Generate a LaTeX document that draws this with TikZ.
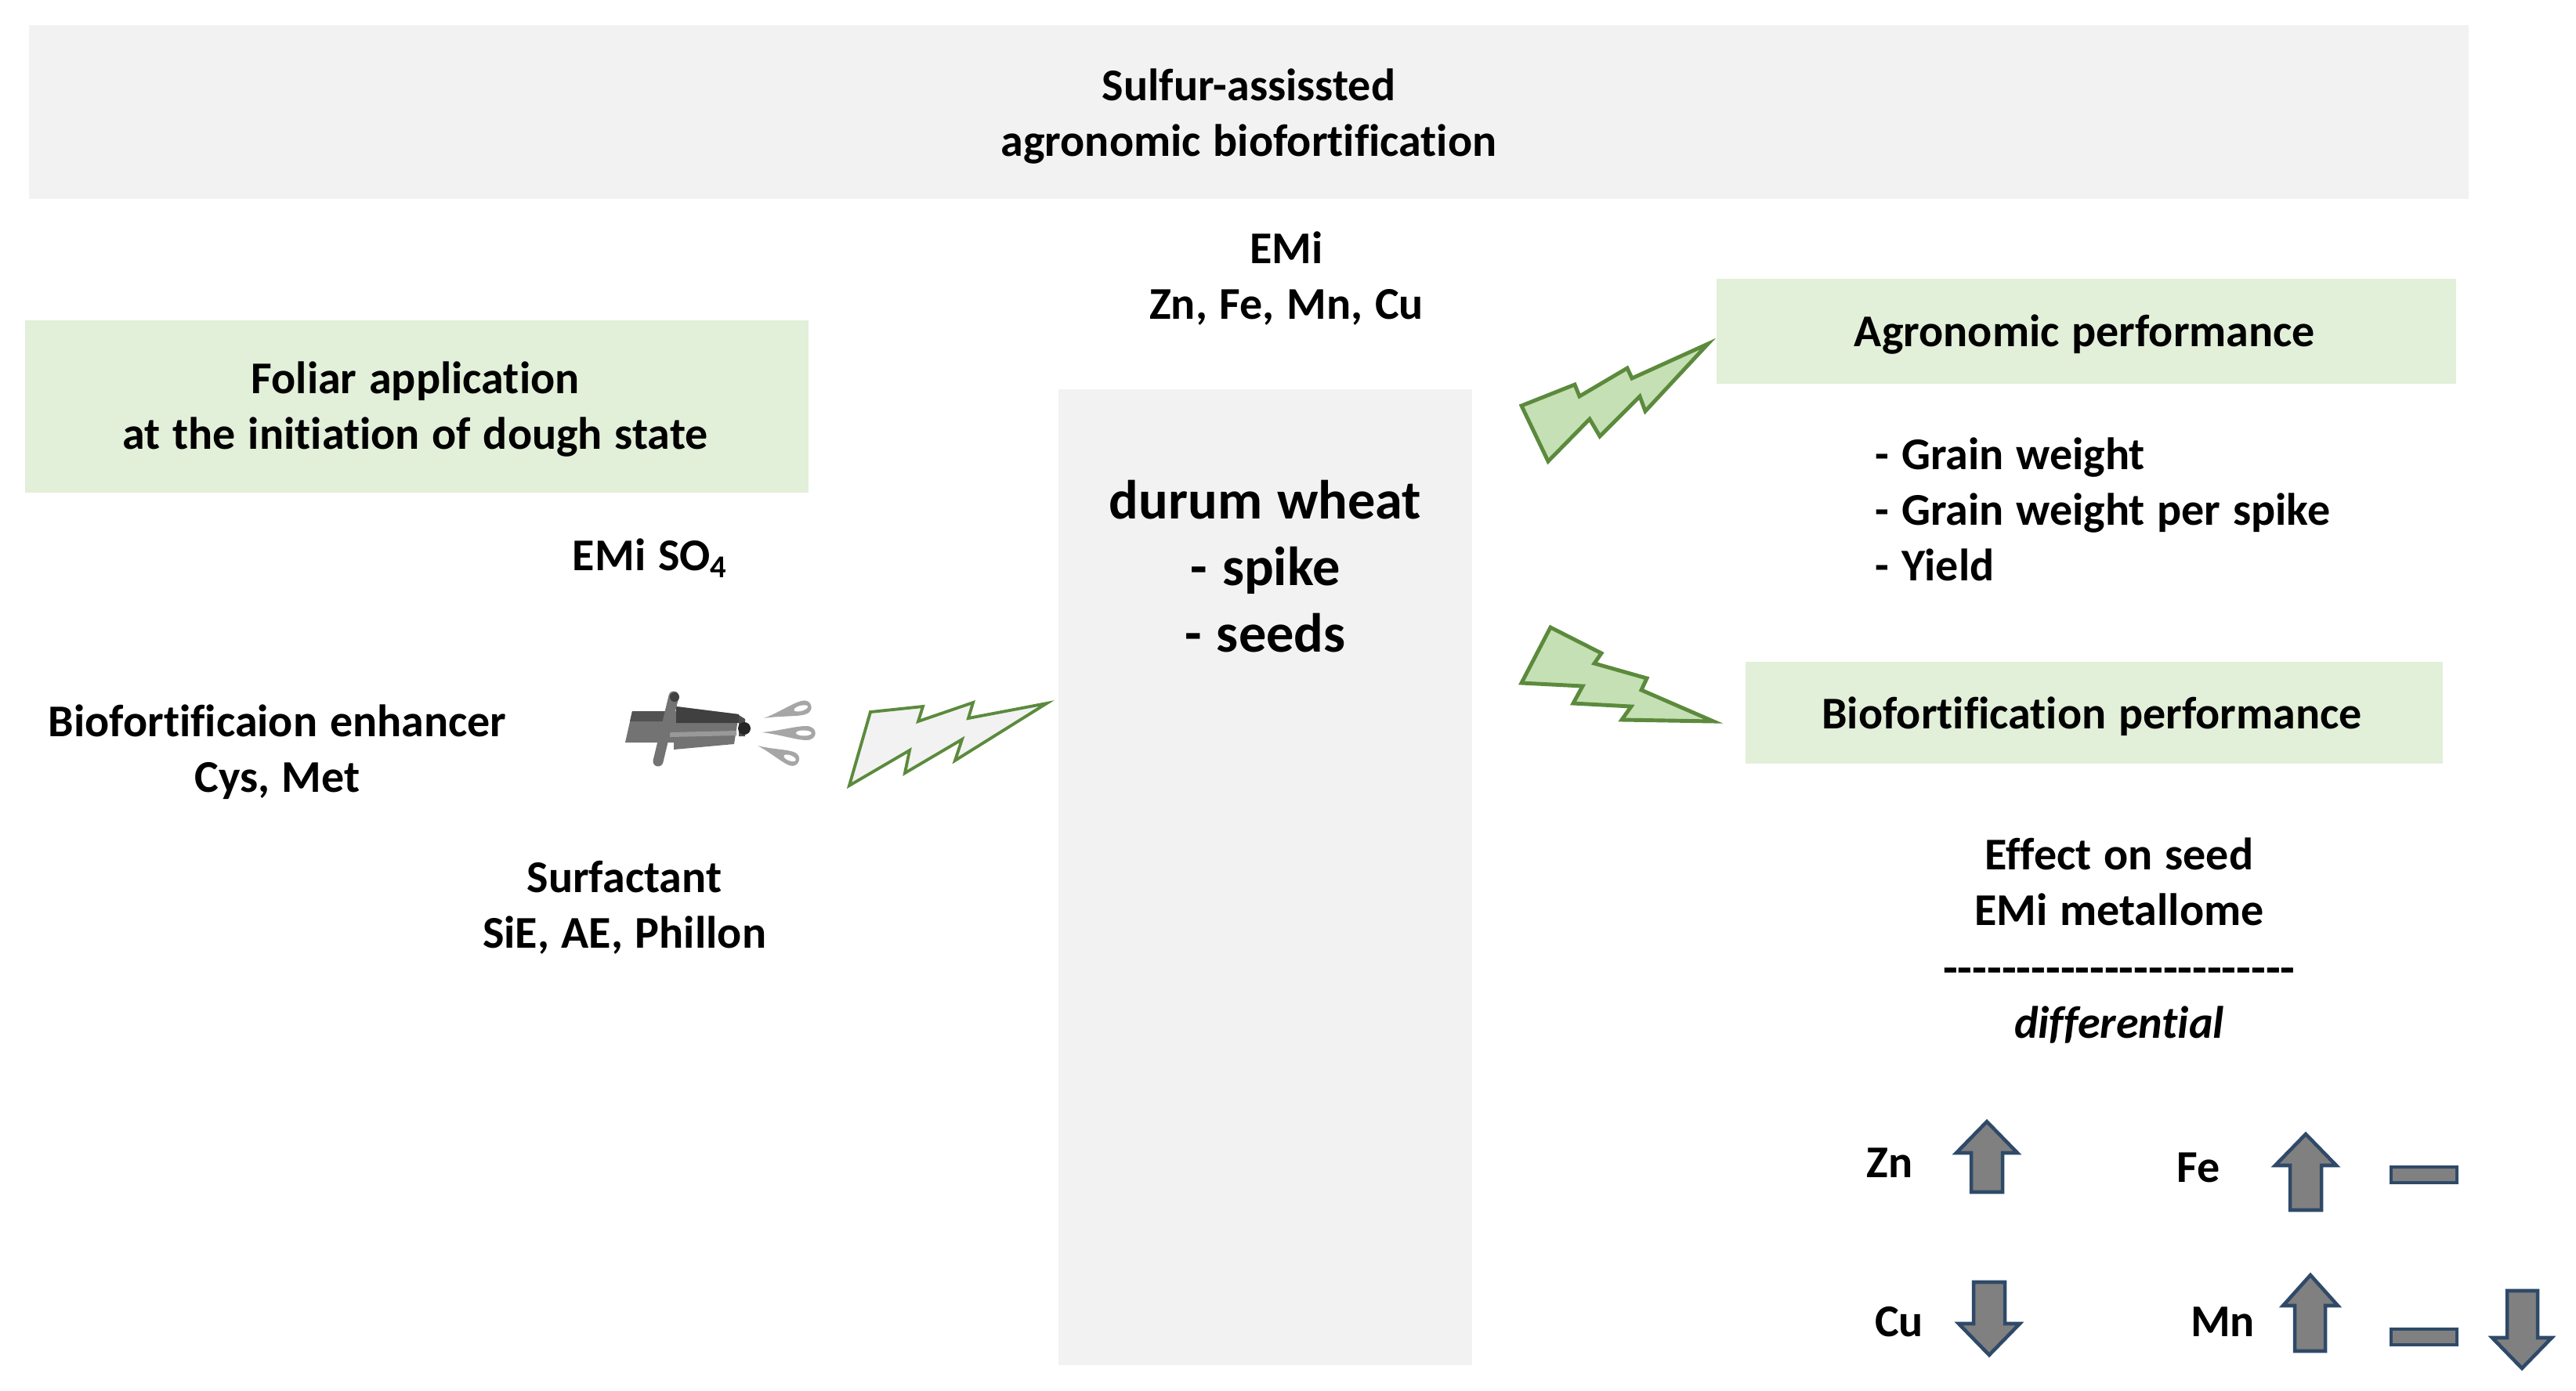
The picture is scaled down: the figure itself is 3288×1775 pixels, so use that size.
\documentclass[tikz,border=0pt]{standalone}
\usepackage{fontspec}
\setmainfont{Carlito}[Ligatures=NoCommon, WordSpace=1.2]
\tikzset{
	txt/.style={font=\fontsize{16.5}{20.2}\selectfont\bfseries, align=center, inner sep=0pt},
	bigtxt/.style={font=\fontsize{20}{24.1}\selectfont\bfseries, align=center, inner sep=0pt},
	greybox/.style={fill=black!5, inner sep=0pt},
	greenbox/.style={fill=boxgreen, inner sep=0pt},
	bolt/.style={draw=boltline, fill=boltfill, line width=1.4pt, line join=miter},
	greybolt/.style={draw=boltline, fill=black!5, line width=1.1pt, line join=miter},
	updown/.style={draw=arrowline, fill=black!50, line width=1.3pt},
	drop/.style={fill=black!35}
}
\definecolor{boxgreen}{HTML}{E2EFD9}
\definecolor{boltfill}{HTML}{C5E0B4}
\definecolor{boltline}{HTML}{5B8A3C}
\definecolor{arrowline}{HTML}{2F4A68}
\begin{document}
\begin{tikzpicture}[x=0.01cm,y=-0.01cm]
	\useasboundingbox (0,0) rectangle (3288,1775);

	% Boxes
	\node[greybox, minimum width=31.12cm, minimum height=2.22cm] (titlebox) at (1594,143) {};
	\node[greenbox, minimum width=10cm, minimum height=2.2cm] (foliarbox) at (532,519) {};
	\node[greybox, minimum width=5.27cm, minimum height=12.46cm] (wheatbox) at (1615,1120) {};
	\node[greenbox, minimum width=9.44cm, minimum height=1.33cm] (agrobox) at (2663,423) {};
	\node[greenbox, minimum width=8.9cm, minimum height=1.3cm] (biofortbox) at (2673,910) {};

	% Texts
	\node[txt] (title) at (1594,149) {Sulfur-assissted\\agronomic biofortification};
	\node[txt] (foliar) at (530,523) {Foliar application\\at the initiation of dough state};
	\node[bigtxt] (wheat) at (1615,723) {durum wheat\\- spike\\- seeds};
	\node[txt] (agro) at (2661,427) {Agronomic performance};
	\node[txt] (biofort) at (2670,915) {Biofortification performance};
	\node[txt] (emi) at (1642,356) {EMi\\Zn, Fe, Mn, Cu};
	\node[txt] (emiso) at (830,713) {EMi SO$_{\mathbf{4}}$};
	\node[txt] (enhancer) at (354,960) {Biofortificaion enhancer\\Cys, Met};
	\node[txt] (surfactant) at (797,1159) {Surfactant\\SiE, AE, Phillon};
	\node[txt, align=left, anchor=west] (traits) at (2393,650) {- Grain weight\\- Grain weight per spike\\- Yield};
	\node[txt] (effect) at (2705,1126) {Effect on seed\\EMi metallome};
	\node[txt, font=\fontsize{17.4}{20}\selectfont\bfseries, anchor=base] (dashes) at (2705,1256) {-{}-{}-{}-{}-{}-{}-{}-{}-{}-{}-{}-{}-{}-{}-{}-{}-{}-{}-{}-{}-{}-{}-{}-};
	\node[txt, font=\fontsize{16.5}{20}\selectfont\bfseries\itshape] (diff) at (2705,1308) {differential};
	\node[txt] (zn) at (2412,1485) {Zn};
	\node[txt] (fe) at (2806,1491) {Fe};
	\node[txt] (cu) at (2424,1688) {Cu};
	\node[txt] (mn) at (2837,1688) {Mn};

	% Lightning bolts
	\draw[greybolt] (1084,1003)--(1111,909)--(1178,902)--(1172,921)--(1242,897)--(1236,917)--(1336,898)--(1219,971)--(1228,944)--(1155,987)--(1161,958)--cycle;
	\draw[bolt] (1942,518)--(2010,491)--(2016,506)--(2077,470)--(2083,483)--(2180,439)--(2100,525)--(2093,506)--(2042,557)--(2029,535)--(1976,589)--cycle;
	\draw[bolt] (1979,801)--(2044,834)--(2035,847)--(2102,866)--(2095,881)--(2187,921)--(2070,919)--(2082,902)--(2008,898)--(2020,876)--(1942,872)--cycle;

	% Sprayer
	\fill[black!55] (807,908)--(798,948)--(860,948)--(860,957)--(937,950)--(943,912)--(863,902)--(863,908)--cycle;
	\fill[black!75] (863,902)--(943,912)--(943,923)--(863,923)--cycle;
	\fill[black!68] (807,908)--(850,908)--(850,921)--(804,921)--cycle;
	\fill[black!40] (855,935)--(940,933)--(940,939)--(855,941)--cycle;
	\fill[black!70] (943,913)--(951,918)--(951,940)--(943,940)--cycle;
	\fill[black!85] (950,930) circle (8);
	\draw[black!55, line width=3.7pt, line cap=round] (860,889)--(840,972);
	\fill[black!75] (861,890) circle (6);
	\begin{scope}[shift={(975,917)}, rotate=15]
		\fill[drop] (0,0) .. controls (20,-2) and (40,-9) .. (52,-9) .. controls (66,-9) and (66,9) .. (52,9) .. controls (40,9) and (20,2) .. (0,0);
		\fill[white] (49,0) ellipse (9 and 3.5);
	\end{scope}
	\begin{scope}[shift={(972,935)}, rotate=-1, xscale=1.1]
		\fill[drop] (0,0) .. controls (20,-2) and (40,-9) .. (52,-9) .. controls (66,-9) and (66,9) .. (52,9) .. controls (40,9) and (20,2) .. (0,0);
		\fill[white] (49,0) ellipse (9 and 3.5);
	\end{scope}
	\begin{scope}[shift={(967,952)}, rotate=-21, xscale=.9]
		\fill[drop] (0,0) .. controls (20,-2) and (40,-9) .. (52,-9) .. controls (66,-9) and (66,9) .. (52,9) .. controls (40,9) and (20,2) .. (0,0);
		\fill[white] (49,0) ellipse (9 and 3.5);
	\end{scope}

	% Up and down arrows
	\begin{scope}[shift={(2536,1432)}]
		\draw[updown] (0,0)--(39,40)--(20,40)--(20,90)--(-20,90)--(-20,40)--(-39,40)--cycle;
	\end{scope}
	\begin{scope}[shift={(2943,1448)}]
		\draw[updown] (0,0)--(39,40)--(20,40)--(20,97)--(-20,97)--(-20,40)--(-39,40)--cycle;
	\end{scope}
	\begin{scope}[shift={(2949,1628)}]
		\draw[updown] (0,0)--(35,39)--(19,39)--(19,97)--(-20,97)--(-20,39)--(-35,39)--cycle;
	\end{scope}
	\begin{scope}[shift={(2539,1730)}, yscale=-1]
		\draw[updown] (0,0)--(39,40)--(20,40)--(20,93)--(-20,93)--(-20,40)--(-39,40)--cycle;
	\end{scope}
	\begin{scope}[shift={(3219,1747)}, yscale=-1]
		\draw[updown] (0,0)--(38,39)--(20,39)--(20,99)--(-19,99)--(-19,39)--(-38,39)--cycle;
	\end{scope}
	\draw[updown] (3052,1490) rectangle (3136,1510);
	\draw[updown] (3052,1697) rectangle (3136,1717);
\end{tikzpicture}
\end{document}
